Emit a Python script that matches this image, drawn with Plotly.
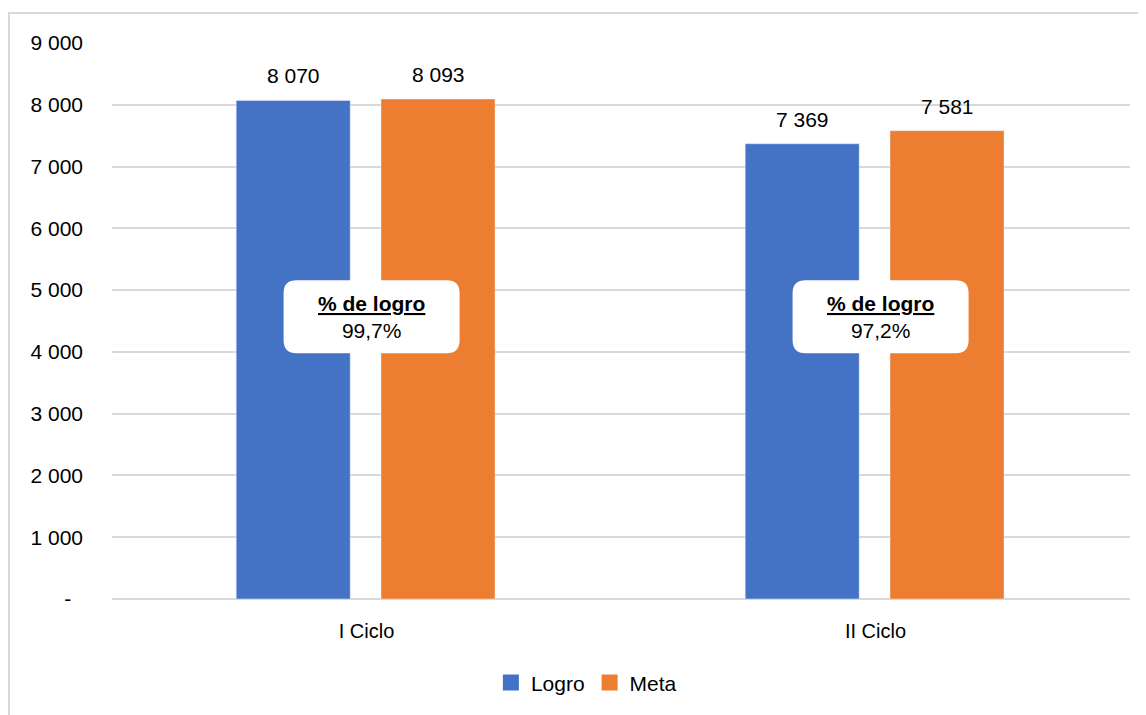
import plotly.graph_objects as go

ciclos = ["I Ciclo", "II Ciclo"]
logro = [8070, 7369]
meta = [8093, 7581]
y_ticks = [0, 1000, 2000, 3000, 4000, 5000, 6000, 7000, 8000, 9000]

BLUE = "#4472C4"
ORANGE = "#ED7D31"
GRID = "#D9D9D9"
FONT = "Liberation Sans"

fig = go.Figure()

# bars placed by hand with offset so the gap between the pair matches
fig.add_trace(go.Bar(x=ciclos, y=logro, name="Logro", marker_color=BLUE,
                     width=0.224, offset=-0.256, showlegend=False))
fig.add_trace(go.Bar(x=ciclos, y=meta, name="Meta", marker_color=ORANGE,
                     width=0.224, offset=0.0285, showlegend=False))

# legend entries with bigger square swatches
for name, col in [("Logro", BLUE), ("Meta", ORANGE)]:
    fig.add_trace(go.Scatter(x=[None], y=[None], mode="markers", name=name,
                             marker=dict(symbol="square", size=16, color=col)))


def fmt(v):
    return f"{v:,}".replace(",", " ")


# value labels above each bar
for i, c in enumerate(ciclos):
    for v, off in [(logro[i], -0.256), (meta[i], 0.0285)]:
        fig.add_annotation(x=i + off + 0.112, y=v, xref="x", yref="y",
                           text=fmt(v), showarrow=False, yanchor="bottom",
                           yshift=11, font=dict(family=FONT, size=21, color="#000"))

# rounded white boxes with % de logro
box_y = 4570
w, h, r = 176, 73, 13
path = (f"M {-w/2 + r} {-h/2} L {w/2 - r} {-h/2} Q {w/2} {-h/2} {w/2} {-h/2 + r} "
        f"L {w/2} {h/2 - r} Q {w/2} {h/2} {w/2 - r} {h/2} "
        f"L {-w/2 + r} {h/2} Q {-w/2} {h/2} {-w/2} {h/2 - r} "
        f"L {-w/2} {-h/2 + r} Q {-w/2} {-h/2} {-w/2 + r} {-h/2} Z")
for i, c in enumerate(ciclos):
    pct = logro[i] / meta[i] * 100
    fig.add_shape(type="path", xref="x", yref="y", xsizemode="pixel", ysizemode="pixel",
                  xanchor=i + 0.01, yanchor=box_y, path=path,
                  fillcolor="white", line=dict(width=0), layer="above")
    fig.add_annotation(x=i + 0.01, y=box_y, xref="x", yref="y", showarrow=False,
                       text=f"<b><u>% de logro</u></b><br>{pct:.1f}%".replace(".", ","),
                       font=dict(family=FONT, size=21, color="#000"))

# outer chart border
fig.add_shape(type="rect", xref="paper", yref="paper",
              x0=-0.1012, x1=1.05, y0=-0.25, y1=1.054,
              line=dict(color=GRID, width=2), fillcolor="rgba(0,0,0,0)", layer="below")

# page body adds an 8px offset, so margins are shifted to compensate
fig.update_layout(
    width=1146, height=715,
    margin=dict(l=104, r=24, t=35, b=124),
    paper_bgcolor="white", plot_bgcolor="white",
    barmode="overlay",
    font=dict(family=FONT, size=20, color="#000"),
    showlegend=True,
    legend=dict(orientation="h", x=0.466, xanchor="center", y=-0.151, yanchor="middle",
                font=dict(family=FONT, size=21), itemwidth=30, traceorder="normal",
                itemsizing="trace"),
)
fig.update_yaxes(range=[0, 9000], tickvals=y_ticks,
                 ticktext=["-\u00a0\u00a0"] + [fmt(v) for v in y_ticks[1:]],
                 showgrid=True, gridcolor=GRID, gridwidth=1.5,
                 zeroline=True, zerolinecolor=GRID, zerolinewidth=1.5,
                 showline=False, ticklabelstandoff=28, tickfont=dict(size=21))
fig.update_xaxes(showgrid=False, showline=False, ticklabelstandoff=18)

fig.write_html("out.html")
